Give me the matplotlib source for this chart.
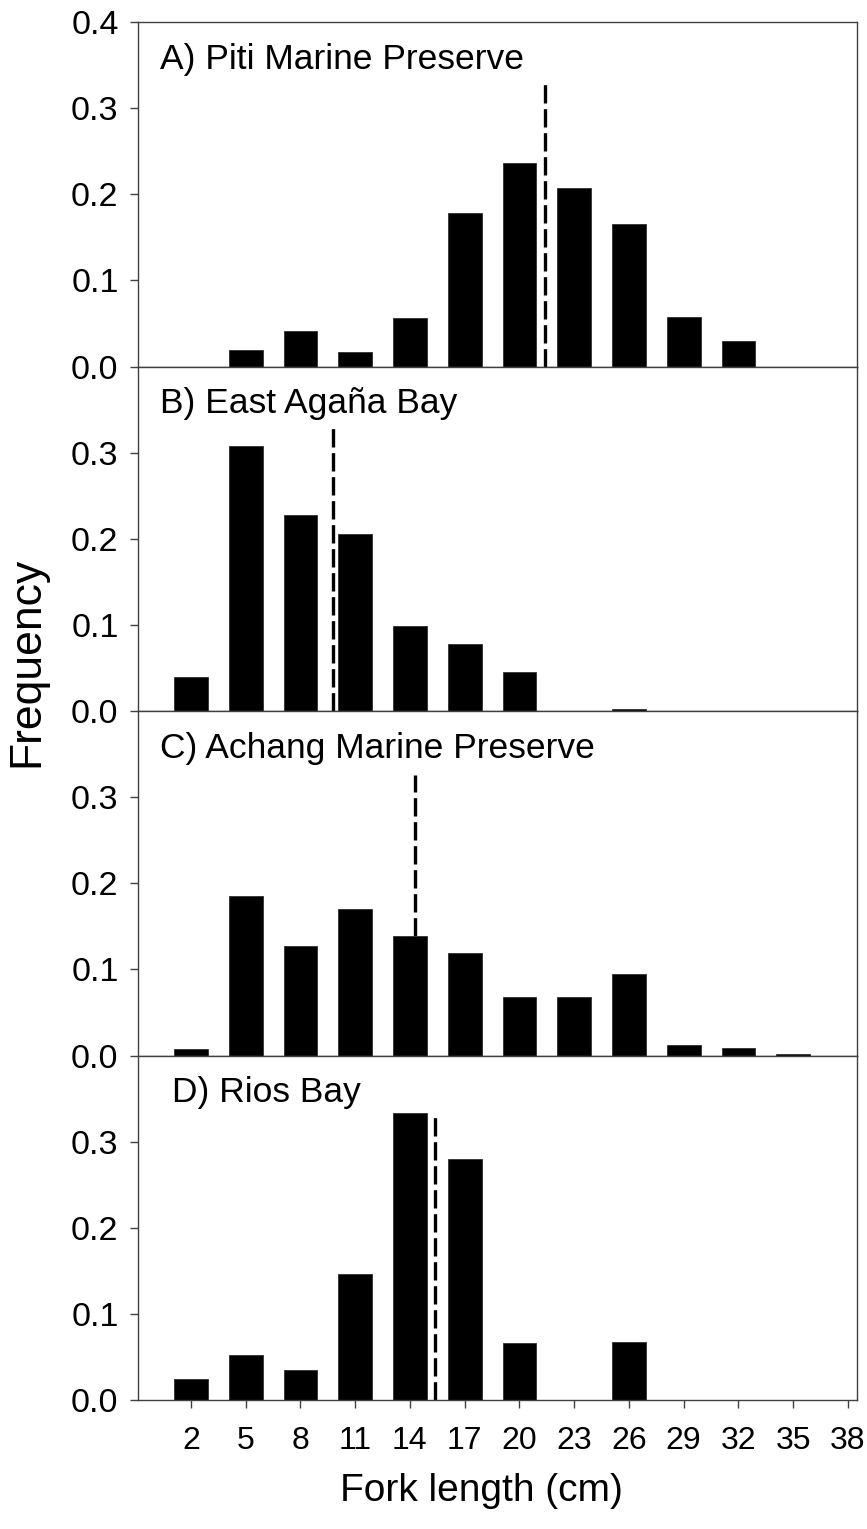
import numpy as np
import matplotlib
matplotlib.use('Agg')
import matplotlib.pyplot as plt

plt.rcParams['font.family'] = ['Liberation Sans', 'DejaVu Sans']

# fork length classes (cm)
longitudes = [2, 5, 8, 11, 14, 17, 20, 23, 26, 29, 32, 35, 38]

sitios = ['A) Piti Marine Preserve', 'B) East Agaña Bay',
          'C) Achang Marine Preserve', 'D) Rios Bay']

frec_piti = [0.0, 0.019, 0.041, 0.017, 0.056, 0.178, 0.236, 0.207, 0.166, 0.058, 0.030, 0.0, 0.0]
frec_agana = [0.039, 0.308, 0.228, 0.205, 0.099, 0.078, 0.045, 0.0, 0.002, 0.0, 0.0, 0.0, 0.0]
frec_achang = [0.007, 0.185, 0.127, 0.170, 0.139, 0.119, 0.068, 0.068, 0.095, 0.012, 0.009, 0.002, 0.0]
frec_rios = [0.024, 0.052, 0.035, 0.146, 0.333, 0.280, 0.066, 0.0, 0.067, 0.0, 0.0, 0.0, 0.0]

# mean fork length of each site (dashed line) and its drawn height
medias = [21.4, 9.8, 14.3, 15.4]
altura_media = [0.328, 0.329, 0.326, 0.329]

frecuencias = [frec_piti, frec_agana, frec_achang, frec_rios]

fig = plt.figure(figsize=(8.67, 15.29), dpi=100)
izq, der = 138 / 867, 857 / 867
abajo, arriba = 1 - 1400 / 1529, 1 - 22 / 1529
alto = (arriba - abajo) / 4
gris = '#404040'

for i in range(4):
    ax = fig.add_axes([izq, arriba - (i + 1) * alto, der - izq, alto])
    ax.vlines(medias[i], 0, altura_media[i], colors='black', linewidth=2.4,
              linestyles=(0, (5.5, 1.7)), zorder=1)
    ax.bar(longitudes, frecuencias[i], width=1.85, color='black',
           edgecolor='#303030', linewidth=0.6, zorder=2)
    ax.set_xlim(-0.9, 38.5)
    ax.set_ylim(0, 0.4)
    if i == 0:
        ax.set_yticks([0.0, 0.1, 0.2, 0.3, 0.4])
    else:
        ax.set_yticks([0.0, 0.1, 0.2, 0.3])
    ax.yaxis.set_major_formatter(matplotlib.ticker.FormatStrFormatter('%.1f'))
    ax.set_xticks(longitudes)
    if i < 3:
        ax.tick_params(axis='x', bottom=False, labelbottom=False)
    ax.tick_params(axis='both', direction='out', length=6, width=1, color=gris)
    ax.tick_params(axis='y', pad=8, labelsize=24.5)
    ax.tick_params(axis='x', pad=13, labelsize=23)
    for s in ax.spines.values():
        s.set_color(gris)
        s.set_linewidth(1.0)
    xt = 0.047 if i == 3 else 0.031
    ax.text(xt, 0.864, sitios[i], transform=ax.transAxes, fontsize=25.5,
            ha='left', va='baseline')

fig.text(0.031, 1 - 662 / 1529, 'Frequency', rotation=90, fontsize=32,
         ha='center', va='center')
fig.text(481 / 867, 1 - 1491 / 1529, 'Fork length (cm)', fontsize=28,
         ha='center', va='center')

fig.savefig('out.png', dpi=100)
